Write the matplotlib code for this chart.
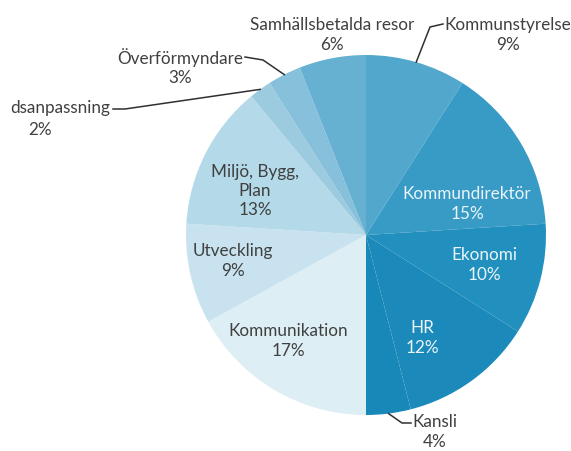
import numpy as np
import matplotlib
matplotlib.use("Agg")
import matplotlib.pyplot as plt

plt.rcParams["font.family"] = ["Lato", "DejaVu Sans"]

# slices, clockwise from 12 o'clock
labels = ["Kommunstyrelse", "Kommundirektör", "Ekonomi", "HR", "Kansli",
          "Kommunikation", "Utveckling", "Miljö, Bygg,\nPlan",
          "dsanpassning", "Överförmyndare", "Samhällsbetalda resor"]
values = [9, 15, 10, 12, 4, 17, 9, 13, 2, 3, 6]
colors = ["#52a8cc", "#389bc5", "#2290bf", "#1b8aba", "#1888b8",
          "#deeef5", "#c8e3ef", "#b4d9e8", "#9ccbe0", "#86c0da", "#66b1d2"]

W, H = 571, 452
cx, cy, r = 366, 236, 180


def py(y):
    # pixel row -> axes y (y up)
    return H - y


fig = plt.figure(figsize=(W / 100, H / 100), dpi=100)
ax = fig.add_axes([0, 0, 1, 1])

wedges, _ = ax.pie(values, colors=colors, startangle=90, counterclock=False,
                   center=(cx, py(cy)), radius=r, frame=True,
                   wedgeprops=dict(linewidth=0))
ax.set_xlim(0, W)
ax.set_ylim(0, H)
ax.set_aspect("equal")
ax.axis("off")

fs = 12.3
dark = "#404040"
light = "#eaf5fa"
lsp = 1.25

# labels inside the pie
inside = {
    1: (467, 204, light),
    2: (484, 265, light),
    3: (422, 338, light),
    5: (288, 341, dark),
    6: (233, 261, dark),
    7: (255, 191, dark),
}
for i, (x, y, c) in inside.items():
    ax.text(x, py(y), f"{labels[i]}\n{values[i]}%", ha="center", va="center",
            ma="center", fontsize=fs, color=c, linespacing=lsp)


def edge_point(i):
    w = wedges[i]
    a = np.deg2rad((w.theta1 + w.theta2) / 2)
    return cx + r * np.cos(a), py(cy) + r * np.sin(a)


# outside labels with leader lines
outside = [
    # idx, text pos, leader path (pixel coords) ending at wedge edge
    (0, (508, 35), [(443, 25), (430, 28)]),
    (10, (332, 35), None),
    (9, (180, 67), [(245, 58), (263, 61)]),
    (4, (435, 432), [(411, 424), (402, 424)]),
]
for i, (tx, ty), path in outside:
    ax.text(tx, py(ty), f"{labels[i]}\n{values[i]}%", ha="center", va="center",
            ma="center", fontsize=fs, color=dark, linespacing=lsp)
    if path:
        ex, ey = edge_point(i)
        xs = [p[0] for p in path] + [ex]
        ys = [py(p[1]) for p in path] + [ey]
        ax.plot(xs, ys, color="#303030", lw=1.1)

# cropped label on the far left
ax.text(110, py(108), labels[8], ha="right", va="center", fontsize=fs, color=dark)
ax.text(40, py(130), f"{values[8]}%", ha="center", va="center", fontsize=fs, color=dark)
ex, ey = edge_point(8)
ax.plot([113, 125, ex], [py(110), py(110), ey], color="#303030", lw=1.1)

fig.savefig("out.png", dpi=100)
